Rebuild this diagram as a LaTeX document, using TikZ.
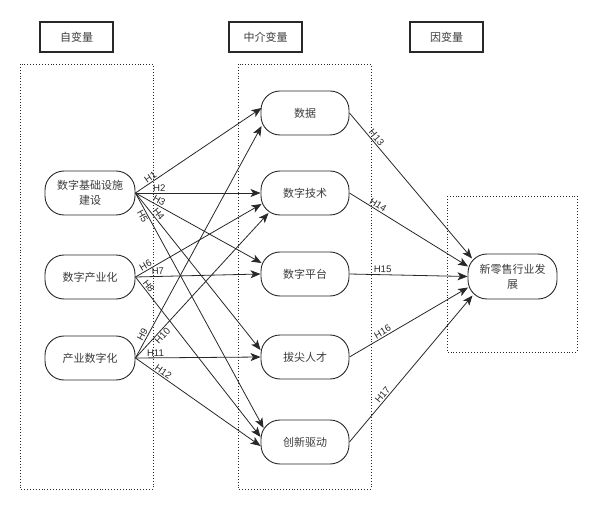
\documentclass[tikz,border=0pt]{standalone}
\usepackage{fontspec}
\setmainfont{Liberation Sans}
\newfontfamily\cjk{Noto Sans CJK SC}
\usetikzlibrary{arrows.meta,calc}
\definecolor{txt}{RGB}{60,60,60}
\definecolor{ln}{RGB}{40,40,40}
\tikzset{
  hdr/.style={draw=ln, line width=1.2pt, minimum width=73pt, minimum height=30pt, inner sep=0pt, font=\cjk\fontsize{11}{15}\selectfont, text=txt},
  grp/.style={draw=ln, dotted, line width=0.9pt},
  var/.style={draw=ln, line width=0.9pt, rounded corners=19pt, minimum height=44pt, inner sep=0pt, align=center, font=\cjk\fontsize{11}{15}\selectfont, text=txt},
  arr/.style={draw=ln, line width=0.8pt, -{Stealth[length=10pt,width=8pt,inset=2.5pt]}},
  lab/.style={sloped, above, inner sep=1.3pt, font=\fontsize{9.6}{9.6}\selectfont, text=ln},
  labb/.style={sloped, below, inner sep=1.3pt, font=\fontsize{9.6}{9.6}\selectfont, text=ln}
}
\begin{document}
\begin{tikzpicture}[x=1pt,y=-1pt]
\useasboundingbox (0,0) rectangle (599,510);
% headers
\node[hdr] (h1) at (76.5,37) {自变量};
\node[hdr] (h2) at (265.5,37) {中介变量};
\node[hdr] (h3) at (446.5,37) {因变量};
% dotted groups
\draw[grp] (20,64) rectangle (153,489);
\draw[grp] (238,64) rectangle (371,489);
\draw[grp] (447,196) rectangle (577,352);
% left nodes
\node[var, minimum width=90pt] (l1) at (90,193) {数字基础设施\\建设};
\node[var, minimum width=90pt] (l2) at (90,277) {数字产业化};
\node[var, minimum width=90pt] (l3) at (90,358) {产业数字化};
% middle nodes
\node[var, minimum width=88pt] (m1) at (305,113) {数据};
\node[var, minimum width=88pt] (m2) at (305,193) {数字技术};
\node[var, minimum width=88pt] (m3) at (305,274) {数字平台};
\node[var, minimum width=88pt] (m4) at (305,357) {拔尖人才};
\node[var, minimum width=88pt] (m5) at (305,442) {创新驱动};
% right node
\node[var, minimum width=89pt, minimum height=45pt] (r) at (512.5,276.5) {新零售行业发\\展};
% left to middle
\draw[arr] (l1.east) -- ([shift={(1,-5)}]m1.west) node[lab,pos=.14]{H1};
\draw[arr] (l1.east) -- (m2.west) node[lab,pos=.19]{H2};
\draw[arr] (l1.east) -- ([shift={(1,-11)}]m3.west) node[lab,pos=.17]{H3};
\draw[arr] (l1.east) -- ([shift={(0,-7)}]m4.west) node[lab,pos=.155]{H4};
\draw[arr] (l1.east) -- ([shift={(3,-14)}]m5.west) node[labb,pos=.09]{H5};
\draw[arr] (l2.east) -- ([shift={(1,11)}]m2.west) node[lab,pos=.1]{H6};
\draw[arr] (l2.east) -- (m3.west) node[lab,pos=.18]{H7};
\draw[arr] (l2.east) -- ([shift={(0,-5)}]m5.west) node[lab,pos=.075]{H8};
\draw[arr] (l3.east) -- ([shift={(1,13)}]m1.west) node[lab,pos=.09]{H9};
\draw[arr] (l3.east) -- ([shift={(8,20)}]m2.west) node[labb,pos=.175]{H10};
\draw[arr] (l3.east) -- (m4.west) node[lab,pos=.16]{H11};
\draw[arr] (l3.east) -- ([shift={(0,4)}]m5.west) node[lab,pos=.2]{H12};
% middle to right
\draw[arr] (m1.east) -- ([shift={(4.5,-18)}]r.west) node[lab,pos=.19]{H13};
\draw[arr] (m2.east) -- ([shift={(0.5,-10)}]r.west) node[lab,pos=.22]{H14};
\draw[arr] (m3.east) -- (r.west) node[lab,pos=.28]{H15};
\draw[arr] (m4.east) -- ([shift={(0.5,11)}]r.west) node[lab,pos=.3]{H16};
\draw[arr] (m5.east) -- ([shift={(5,19)}]r.west) node[lab,pos=.3]{H17};
\end{tikzpicture}
\end{document}
